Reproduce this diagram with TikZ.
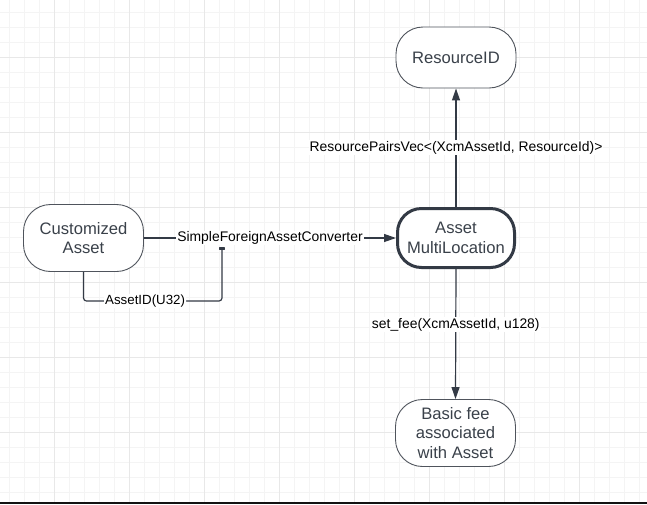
\documentclass[tikz,border=0pt]{standalone}
\usepackage{fontspec}
\setmainfont{Liberation Sans}
\usetikzlibrary{arrows.meta}
\definecolor{gridminor}{HTML}{F4F4F4}
\definecolor{gridmajor}{HTML}{E8E8E8}
\definecolor{ink}{HTML}{333A45}
\definecolor{nodetext}{HTML}{3A414A}
\definecolor{thinborder}{HTML}{4F545C}
\begin{document}
\begin{tikzpicture}[x=1pt,y=-1pt,
  state/.style={draw=thinborder, line width=0.9pt, fill=white, rounded corners=27pt,
    minimum width=120pt, minimum height=67pt, align=center, text=nodetext,
    font=\fontsize{16.6}{19.6}\selectfont, inner sep=0pt},
  keystate/.style={state, draw=ink, line width=3pt, minimum width=117pt,
    minimum height=59pt, rounded corners=24pt},
  conn/.style={draw=ink, line width=1.2pt, -{Triangle[length=12pt,width=8pt]}},
  lbl/.style={fill=white, text=black, font=\fontsize{13.9}{16}\selectfont, inner sep=1pt},
  gminor/.style={draw=gridminor, line width=0.9pt},
  gmajor/.style={draw=gridmajor, line width=0.9pt},
]
\useasboundingbox (0,0) rectangle (647,504);
\fill[white] (0,0) rectangle (647,504);
\begin{scope}
\clip (0,0) rectangle (647,504);
\foreach \k in {0,...,42} { \draw[gminor] ({9.3+15*\k},0) -- ({9.3+15*\k},504); }
\foreach \k in {0,...,32} { \draw[gminor] (0,{12.3+15*\k}) -- (647,{12.3+15*\k}); }
\foreach \k in {0,...,7} { \draw[gmajor] ({54.3+75*\k},0) -- ({54.3+75*\k},504); }
\foreach \k in {0,...,5} { \draw[gmajor] (0,{57.3+75*\k}) -- (647,{57.3+75*\k}); }
\end{scope}
\fill[black!93] (0,502) rectangle (647,504);

\node[state, minimum height=61pt] (res) at (456,57.5) {ResourceID};
\node[keystate] (aml) at (456,238) {Asset\\MultiLocation};
\node[state] (cust) at (83.5,238) {Customized\\Asset};
\node[state] (fee) at (455.5,433) {Basic fee\\associated\\with Asset};

\draw[conn] (aml.north) -- node[lbl] {ResourcePairsVec<(XcmAssetId, ResourceId)>} (res.south);
\draw[conn] (aml.south) -- node[lbl, pos=0.43] {set\_fee(XcmAssetId, u128)} (fee.north);
\draw[conn] (cust.east) -- node[lbl] (convlbl) {SimpleForeignAssetConverter} (aml.west);

\coordinate (tipend) at (222,247.3);
\coordinate (loopy) at (0,301);
\draw[ink, line width=1.2pt, rounded corners=3pt, -{Rectangle[length=3pt,width=5.5pt,round]}]
  (cust.south) -- (cust.south |- loopy)
  -- node[lbl, pos=0.445, font=\fontsize{13.3}{16}\selectfont] {AssetID(U32)} (tipend |- loopy)
  -- (tipend);
\end{tikzpicture}
\end{document}
